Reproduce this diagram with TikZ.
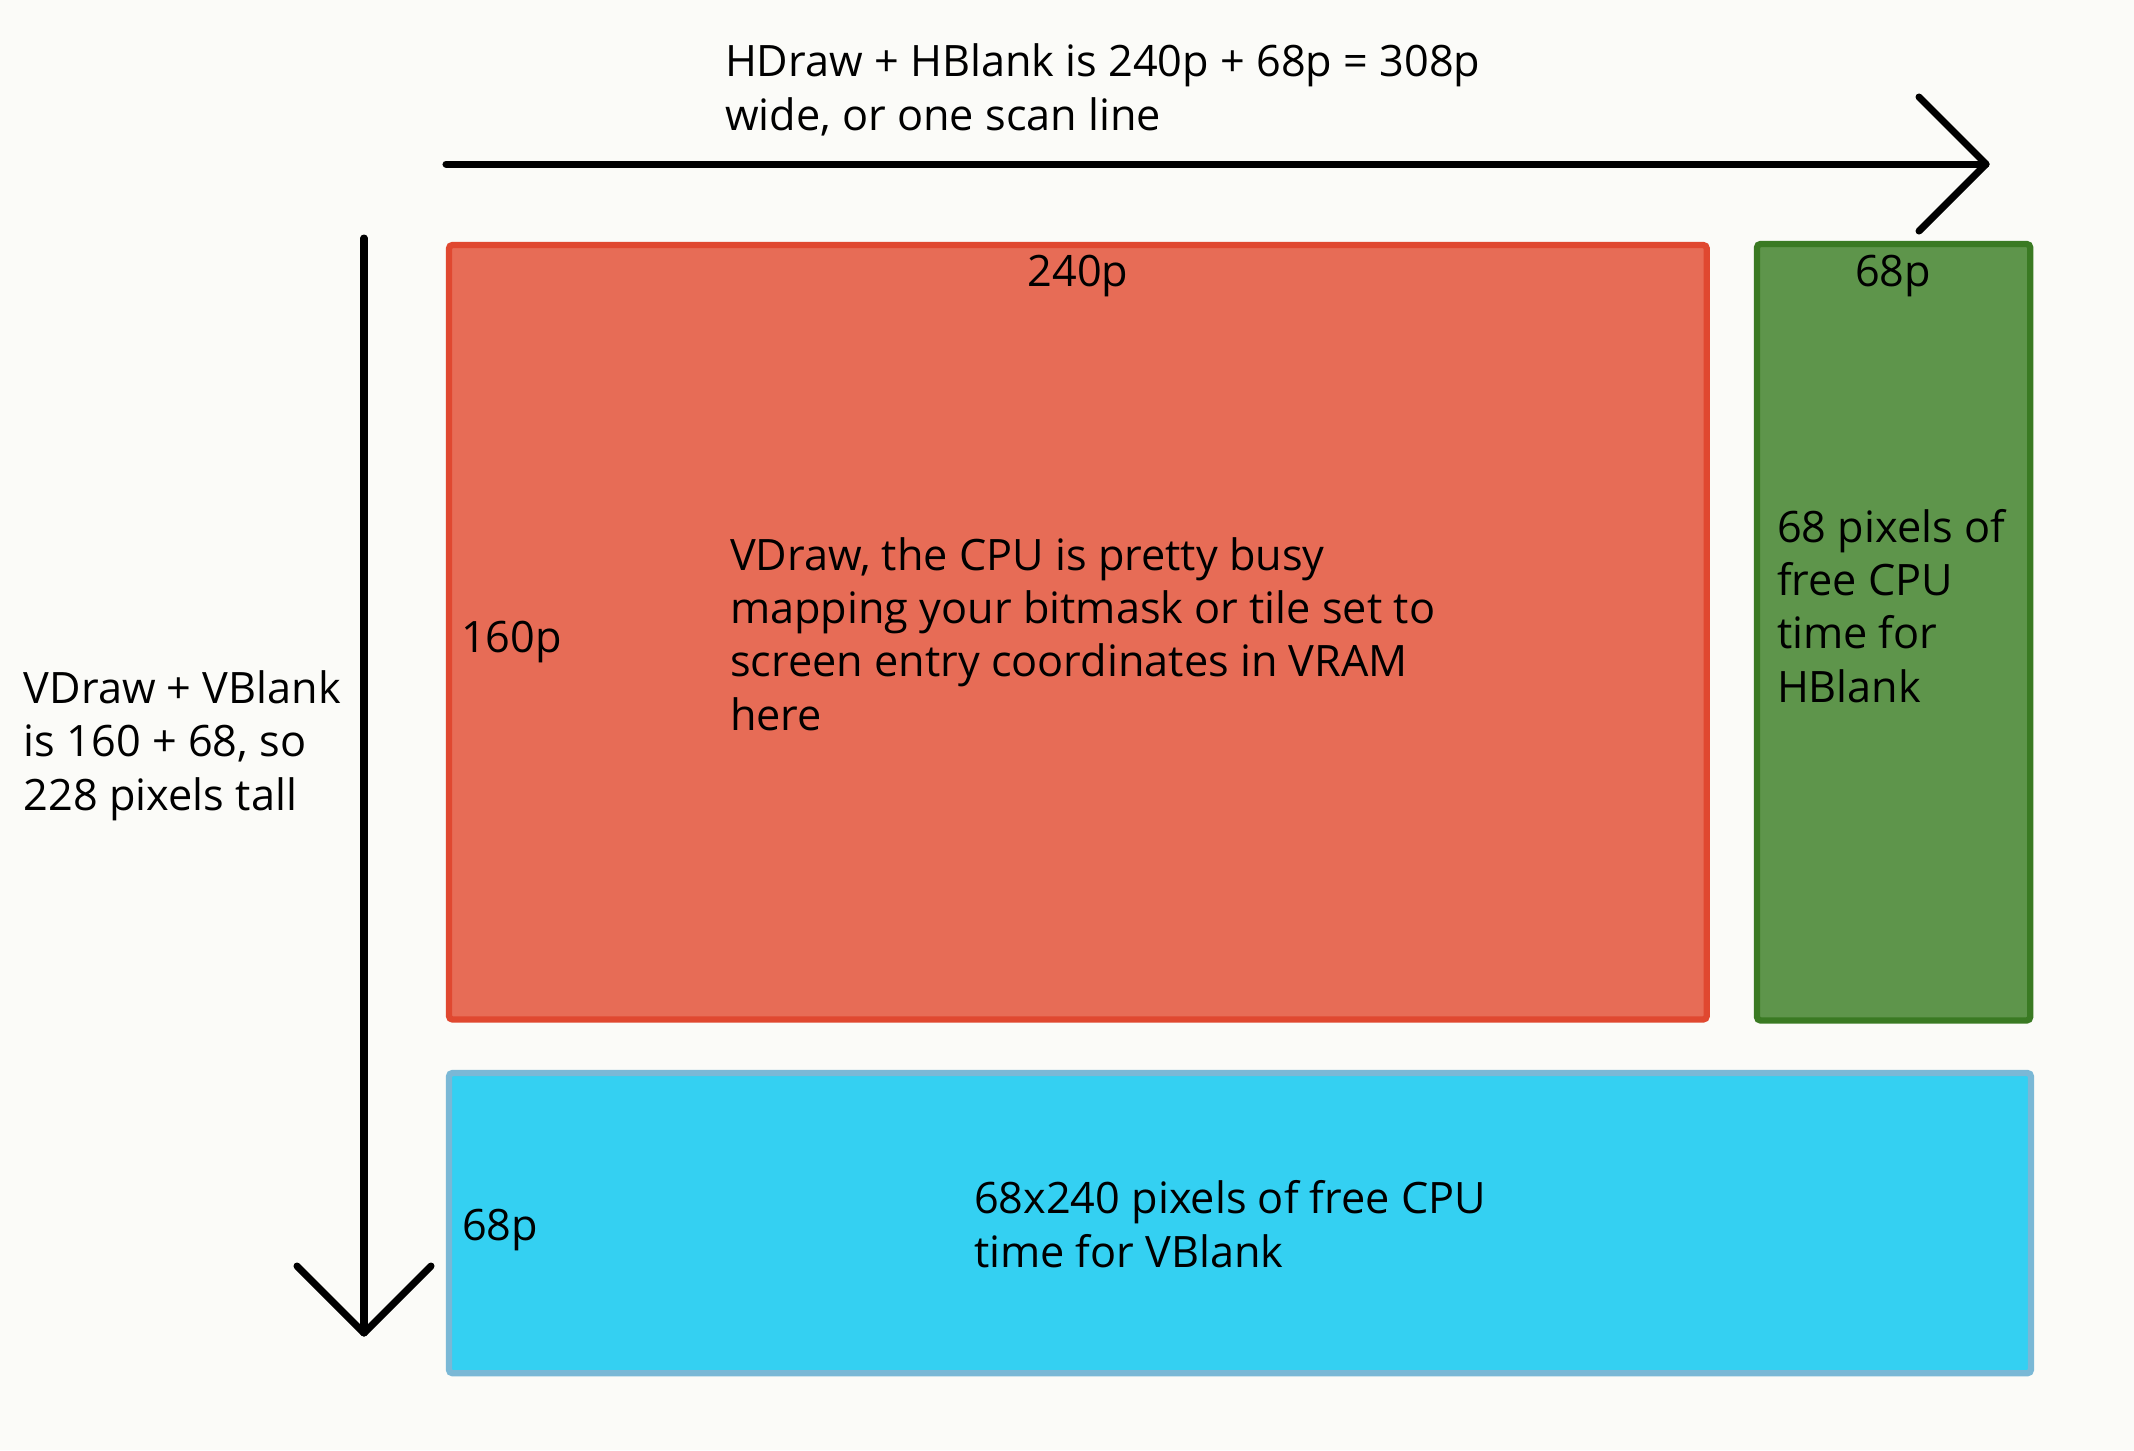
\documentclass[tikz,border=0pt]{standalone}
\usepackage{fontspec}
\setmainfont{Open Sans}
\definecolor{bgc}{RGB}{251,251,248}
\definecolor{redfill}{RGB}{231,108,86}
\definecolor{redline}{RGB}{224,72,48}
\definecolor{greenfill}{RGB}{94,149,75}
\definecolor{greenline}{RGB}{58,122,35}
\definecolor{bluefill}{RGB}{52,208,242}
\definecolor{blueline}{RGB}{122,184,214}
\begin{document}
\begin{tikzpicture}[x=0.01cm,y=-0.01cm,
  every node/.style={font=\fontsize{12.3}{15.1}\selectfont, inner sep=0pt, outer sep=0pt},
  panel/.style={draw, line width=1.8pt, rounded corners=1pt, anchor=north west},
  lbl/.style={anchor=base west, align=left},
  arrowline/.style={line width=2pt, line cap=round, line join=round}]
\fill[bgc] (0,0) rectangle (2134,1450);
\useasboundingbox (0,0) rectangle (2134,1450);
% panels
\node[panel, draw=redline, fill=redfill, minimum width=12.57cm, minimum height=7.74cm] (draw) at (449,245) {};
\node[panel, draw=greenline, fill=greenfill, minimum width=2.73cm, minimum height=7.76cm] (hblank) at (1757,244) {};
\node[panel, draw=blueline, fill=bluefill, minimum width=15.81cm, minimum height=3.00cm] (vblank) at (449,1073) {};
% arrows
\coordinate (hs) at (446,164);
\coordinate (he) at (1986,164);
\coordinate (vs) at (364,238);
\coordinate (ve) at (364,1333);
\draw[arrowline] (hs) -- (he);
\draw[arrowline] (he) ++(-67,-67) -- (he) -- ++(-67,67);
\draw[arrowline] (vs) -- (ve);
\draw[arrowline] (ve) ++(-67,-67) -- (ve) -- ++(67,-67);
% labels (anchor = baseline of the last line)
\node[lbl] (toplbl) at (725,130) {HDraw + HBlank is 240p + 68p = 308p\\wide, or one scan line};
\node[lbl] (leftlbl) at (24,810) {VDraw + VBlank\\is 160 + 68, so\\228 pixels tall};
\node[anchor=base] (w240) at (1078,286) {240p};
\node[anchor=base] (w68) at (1893,286) {68p};
\node[lbl] (h160) at (461,652) {160p};
\node[lbl] (h68) at (462,1240) {68p};
\node[lbl] (drawtxt) at (730,730) {VDraw, the CPU is pretty busy\\mapping your bitmask or tile set to\\screen entry coordinates in VRAM\\here};
\node[lbl] (hbtxt) at (1777,702) {68 pixels of\\free CPU\\time for\\HBlank};
\node[lbl] (vbtxt) at (974,1267) {68x240 pixels of free CPU\\time for VBlank};
\end{tikzpicture}
\end{document}
